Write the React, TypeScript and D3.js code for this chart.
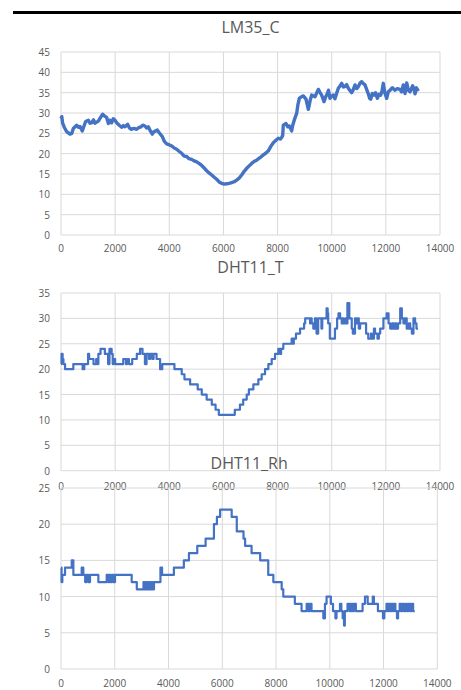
import React from 'react';
import * as d3 from 'd3';

// LM35 temperature, sampled along the trace
const lmX = [0, 30, 60, 120, 210, 330, 400, 455, 578, 650, 700, 787, 850, 910, 1010, 1070, 1133, 1200, 1256, 1379, 1450, 1539, 1600, 1687, 1750, 1810, 1870, 1933, 2000, 2057, 2150, 2241, 2300, 2364, 2464, 2520, 2586, 2700, 2795, 2870, 2955, 3020, 3103, 3170, 3226, 3300, 3374, 3430, 3497, 3560, 3620, 3743, 3820, 3903, 3990, 4088, 4180, 4273, 4360, 4458, 4550, 4642, 4720, 4827, 4900, 5011, 5100, 5196, 5300, 5381, 5480, 5566, 5660, 5750, 5850, 5935, 6030, 6120, 6210, 6305, 6400, 6489, 6580, 6674, 6760, 6859, 6950, 7043, 7166, 7228, 7350, 7474, 7560, 7659, 7750, 7843, 7940, 8028, 8100, 8151, 8190, 8212, 8311, 8380, 8434, 8480, 8520, 8560, 8618, 8705, 8750, 8803, 8880, 8951, 9050, 9136, 9200, 9259, 9383, 9450, 9505, 9570, 9629, 9715, 9780, 9838, 9880, 9937, 10000, 10059, 10120, 10180, 10244, 10300, 10368, 10430, 10491, 10550, 10614, 10680, 10738, 10800, 10861, 10920, 10983, 11050, 11108, 11170, 11230, 11290, 11352, 11400, 11441, 11500, 11563, 11620, 11684, 11750, 11810, 11860, 11906, 11960, 12031, 12090, 12154, 12240, 12338, 12420, 12523, 12580, 12645, 12707, 12770, 12830, 12892, 12990, 13040, 13077, 13130, 13200];
const lmV = [28.6, 29.1, 27.5, 26.5, 25.4, 24.8, 25.0, 26.2, 27.0, 26.5, 26.7, 25.6, 26.8, 27.9, 28.2, 27.5, 27.6, 28.3, 27.5, 28.0, 28.8, 29.7, 29.3, 28.9, 27.4, 28.2, 27.6, 28.6, 28.2, 27.6, 27.0, 26.5, 26.9, 26.6, 27.2, 26.4, 26.0, 26.2, 26.0, 26.4, 26.6, 27.0, 26.8, 26.3, 26.6, 25.6, 24.8, 25.4, 25.6, 25.8, 25.2, 24.2, 23.0, 22.4, 22.2, 21.9, 21.4, 21.1, 20.6, 20.1, 19.4, 19.3, 18.8, 18.6, 18.3, 18.0, 17.6, 17.1, 16.4, 15.8, 15.2, 14.75, 14.2, 13.7, 13.0, 12.7, 12.5, 12.6, 12.7, 12.9, 13.1, 13.5, 14.0, 14.75, 15.6, 16.4, 17.0, 17.6, 18.2, 18.4, 19.0, 19.7, 20.1, 20.7, 21.8, 22.7, 23.3, 23.8, 23.6, 24.0, 24.5, 27.0, 27.4, 26.6, 26.8, 26.2, 25.6, 27.0, 28.3, 29.9, 32.0, 33.6, 34.0, 34.2, 33.4, 30.9, 33.0, 34.4, 34.0, 35.0, 35.8, 35.0, 34.4, 32.8, 34.0, 34.8, 35.6, 33.6, 34.2, 34.4, 33.5, 34.8, 36.1, 36.6, 37.3, 36.4, 36.5, 37.0, 36.1, 35.5, 35.0, 35.8, 36.9, 36.0, 36.5, 37.4, 37.7, 37.2, 36.9, 35.8, 34.7, 33.6, 33.4, 34.8, 34.4, 35.0, 33.6, 34.6, 34.4, 35.5, 37.3, 35.0, 33.6, 35.2, 35.6, 36.2, 35.6, 36.0, 35.8, 35.2, 36.9, 34.8, 37.4, 35.6, 35.2, 36.7, 35.8, 34.7, 36.2, 35.4];

// DHT11 temperature, step change points
const tX = [0, 20, 60, 90, 150, 455, 800, 860, 1000, 1040, 1200, 1300, 1340, 1380, 1460, 1620, 1740, 1790, 1870, 1910, 1950, 2000, 2300, 2400, 2440, 2510, 2630, 2800, 2920, 3010, 3100, 3160, 3250, 3300, 3380, 3420, 3530, 3660, 3740, 4190, 4460, 4560, 4770, 5050, 5200, 5380, 5570, 5710, 5830, 6420, 6610, 6730, 6860, 6940, 7105, 7290, 7413, 7537, 7660, 7783, 7906, 8029, 8100, 8130, 8212, 8520, 8560, 8600, 8680, 8830, 8980, 9020, 9200, 9230, 9260, 9320, 9380, 9440, 9500, 9620, 9650, 9810, 9850, 9870, 9930, 10120, 10200, 10250, 10310, 10370, 10400, 10430, 10500, 10540, 10580, 10650, 10740, 10780, 10860, 10900, 10950, 11000, 11050, 11270, 11350, 11450, 11480, 11560, 11600, 11690, 11740, 11790, 11910, 12030, 12100, 12160, 12230, 12280, 12340, 12380, 12450, 12530, 12590, 12650, 12700, 12770, 12850, 12900, 12960, 13020, 13080, 13130, 13190];
const tV = [21, 23, 22, 21, 20, 21, 20, 21, 23, 22, 21, 22, 21, 23, 24, 23, 21, 24, 23, 21, 22, 21, 22, 21, 22, 21, 22, 23, 24, 23, 21, 23, 22, 23, 22, 23, 22, 20, 21, 20, 19, 18, 17, 16, 15, 14, 13, 12, 11, 12, 13, 14, 15, 16, 17, 18, 19, 20, 21, 22, 23, 24, 23, 24, 25, 26, 25, 26, 27, 28, 29, 30, 29, 30, 29, 28, 30, 27, 30, 28, 30, 32, 31, 29, 26, 28, 30, 31, 30, 29, 30, 29, 30, 29, 33, 30, 28, 27, 30, 29, 30, 28, 29, 27, 26, 27, 26, 28, 27, 26, 27, 28, 30, 31, 29, 28, 29, 28, 29, 28, 29, 32, 30, 29, 30, 28, 29, 28, 27, 30, 29, 28, 28];

// DHT11 humidity, step change points
const rhX = [0, 20, 50, 150, 400, 460, 770, 830, 900, 950, 1020, 1080, 1390, 1700, 1760, 1800, 1850, 1900, 1950, 2010, 2630, 2820, 3070, 3120, 3170, 3210, 3260, 3310, 3360, 3400, 3460, 3700, 3760, 4200, 4570, 4760, 5070, 5380, 5690, 5800, 5920, 6350, 6540, 6790, 6850, 7090, 7410, 7710, 7900, 8210, 8270, 8700, 8950, 9140, 9200, 9260, 9320, 9760, 9820, 9880, 10040, 10120, 10210, 10250, 10380, 10430, 10480, 10530, 10560, 10660, 10740, 10800, 10850, 10900, 10970, 11220, 11310, 11410, 11600, 11640, 11790, 11980, 12030, 12110, 12160, 12200, 12250, 12290, 12340, 12380, 12440, 12500, 12540, 12600, 12650, 12700, 12760, 12820, 12870, 12930, 12990, 13050, 13100, 13160];
const rhV = [14, 12, 13, 14, 15, 13, 14, 13, 12, 13, 12, 13, 12, 13, 12, 13, 12, 13, 12, 13, 12, 11, 12, 11, 12, 11, 12, 11, 12, 11, 12, 14, 13, 14, 15, 16, 17, 18, 20, 21, 22, 21, 19, 18, 17, 16, 15, 13, 12, 11, 10, 9, 8, 9, 8, 9, 8, 7, 9, 10, 9, 8, 7, 8, 9, 8, 7, 6, 8, 9, 8, 9, 8, 9, 8, 9, 10, 9, 10, 9, 8, 7, 8, 9, 8, 9, 8, 9, 8, 9, 8, 7, 8, 9, 8, 9, 8, 9, 8, 9, 8, 9, 8, 8];

const xTicks = [0, 2000, 4000, 6000, 8000, 10000, 12000, 14000];
const lmTicks = [0, 5, 10, 15, 20, 25, 30, 35, 40, 45];
const tTicks = [0, 5, 10, 15, 20, 25, 30, 35];
const rhTicks = [0, 5, 10, 15, 20, 25];

const font = '"Open Sans", sans-serif';
const grey = '#595959';

function Panel(props: any) {
  const { title, xs, vs, yTicks, top, bottom, left, right, titleY, labelY, stepped, sw } = props;
  const x = d3.scaleLinear().domain([0, 14000]).range([left, right]);
  const y = d3.scaleLinear().domain([0, yTicks[yTicks.length - 1]]).range([bottom, top]);
  const line = d3.line<number>()
    .x((d, i) => x(xs[i]))
    .y(d => y(d))
    .curve(stepped ? d3.curveStepAfter : d3.curveLinear);

  return (
    <g>
      {yTicks.map(t => (
        <line key={'h' + t} x1={left} x2={right} y1={y(t)} y2={y(t)} stroke="#d9d9d9" strokeWidth={1} />
      ))}
      {xTicks.map(t => (
        <line key={'v' + t} x1={x(t)} x2={x(t)} y1={top} y2={bottom} stroke="#d9d9d9" strokeWidth={1} />
      ))}
      {yTicks.map(t => (
        <text key={'yl' + t} x={left - 11} y={y(t)} textAnchor="end" dominantBaseline="central"
          fontSize={10} fill={grey} fontFamily={font}>{t}</text>
      ))}
      {xTicks.map(t => (
        <text key={'xl' + t} x={x(t)} y={labelY} textAnchor="middle" dominantBaseline="central"
          fontSize={10} fill={grey} fontFamily={font}>{t}</text>
      ))}
      <path d={line(vs) || ''} fill="none" stroke="#4472C4" strokeWidth={sw} strokeLinejoin="round" />
      <text x={(left + right) / 2} y={titleY} textAnchor="middle" dominantBaseline="central"
        fontSize={16} fill={grey} fontFamily={font}>{title}</text>
    </g>
  );
}

export default function App() {
  return (
    <svg width={461} height={690} style={{ position: 'absolute', left: 0, top: 0, background: '#fff' }}>
      <rect x={13} y={11} width={448} height={3} fill="#000" />
      <Panel title="LM35_C" xs={lmX} vs={lmV} yTicks={lmTicks} top={52} bottom={235} left={61} right={440}
        titleY={27} labelY={248} stepped={false} sw={3.4} />
      <Panel title="DHT11_T" xs={tX} vs={tV} yTicks={tTicks} top={293} bottom={470.7} left={61} right={440}
        titleY={267} labelY={486} stepped={true} sw={2.2} />
      <Panel title="DHT11_Rh" xs={rhX} vs={rhV} yTicks={rhTicks} top={488} bottom={669} left={61} right={437.3}
        titleY={463} labelY={683} stepped={true} sw={2.2} />
    </svg>
  );
}
